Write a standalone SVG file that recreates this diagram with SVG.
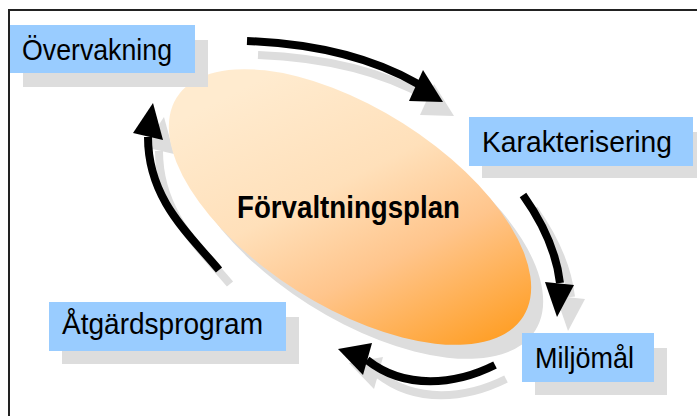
<svg xmlns="http://www.w3.org/2000/svg" width="697" height="416" viewBox="0 0 697 416">
  <style>
    .lbl { fill: #99CCFF; }
    .shd { fill: #DDDDDD; }
    .txt { font-family: "Liberation Sans", "Noto Sans", sans-serif; font-size: 30px; fill: #000; }
    .ctr { font-family: "Liberation Sans", "Noto Sans", sans-serif; font-size: 32px; font-weight: bold; fill: #000; }
  </style>
  <defs>
    <linearGradient id="eg" gradientUnits="userSpaceOnUse" x1="210" y1="140" x2="525" y2="330">
      <stop offset="0" stop-color="#FFEBCF"/>
      <stop offset="0.35" stop-color="#FFE0BA"/>
      <stop offset="0.6" stop-color="#FFC58C"/>
      <stop offset="1" stop-color="#FF960F"/>
    </linearGradient>
    <g id="a1"><path d="M247,41 Q350,45 418,84" fill="none" stroke-width="8"/><polygon points="423,70 409,101 443,102" stroke="none"/></g>
    <g id="a2"><path d="M523,195 Q555,240 560,283" fill="none" stroke-width="8"/><polygon points="545,282 574,285 557,317" stroke="none"/></g>
    <g id="a3"><path d="M495,365 C455,385 405,390 367,360" fill="none" stroke-width="8"/><polygon points="372,343 363,375 338,349" stroke="none"/></g>
    <g id="a4"><path d="M219,270 C190,235 148,200 148,137" fill="none" stroke-width="8"/><polygon points="133,133 163,140 153,103" stroke="none"/></g>
  </defs>
  <rect x="0" y="0" width="697" height="416" fill="#fff"/>
  <rect x="9" y="10" width="700" height="420" fill="#fff" stroke="#222" stroke-width="2"/>

  <g id="connectors-shadow" transform="translate(11,14)" fill="#DDDDDD" stroke="#DDDDDD">
    <use href="#a1"/><use href="#a2"/><use href="#a3"/><use href="#a4"/>
  </g>

  <g id="center">
    <ellipse cx="362" cy="221" rx="205" ry="99" transform="rotate(32.3 362 221)" class="shd"/>
    <ellipse cx="350" cy="207" rx="205" ry="99" transform="rotate(32.3 350 207)" fill="url(#eg)"/>
    <text x="237" y="218" class="ctr" textLength="223" lengthAdjust="spacingAndGlyphs">Förvaltningsplan</text>
  </g>

  <g id="connectors" fill="#000" stroke="#000">
    <use href="#a1"/><use href="#a2"/><use href="#a3"/><use href="#a4"/>
  </g>

  <g id="overvakning">
    <rect x="23" y="40" width="185" height="47" class="shd"/>
    <rect x="10" y="25" width="185" height="48" class="lbl"/>
    <text x="22" y="60" class="txt" textLength="150" lengthAdjust="spacingAndGlyphs">Övervakning</text>
  </g>
  <g id="karakterisering">
    <rect x="482" y="132" width="224" height="46" class="shd"/>
    <rect x="469" y="117" width="224" height="49" class="lbl"/>
    <text x="482" y="152" class="txt" textLength="190" lengthAdjust="spacingAndGlyphs">Karakterisering</text>
  </g>
  <g id="miljomal">
    <rect x="535" y="348" width="132" height="47" class="shd"/>
    <rect x="522" y="333" width="132" height="49" class="lbl"/>
    <text x="535" y="368" class="txt" textLength="99" lengthAdjust="spacingAndGlyphs">Miljömål</text>
  </g>
  <g id="atgardsprogram">
    <rect x="62" y="317" width="237" height="47" class="shd"/>
    <rect x="49" y="302" width="237" height="49" class="lbl"/>
    <text x="62" y="334" class="txt" textLength="201" lengthAdjust="spacingAndGlyphs">Åtgärdsprogram</text>
  </g>
</svg>
